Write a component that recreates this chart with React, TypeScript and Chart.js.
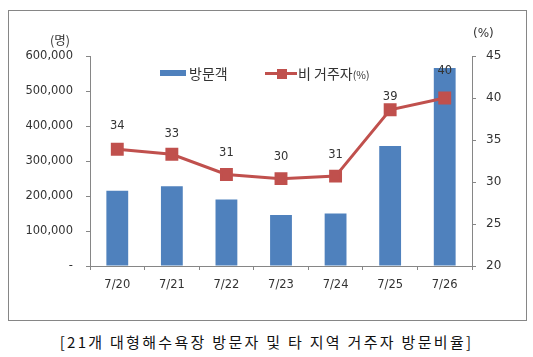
import React, { useEffect, useRef } from "react";
import { Chart, registerables } from "chart.js";

Chart.register(...registerables);

const categories = ["7/20", "7/21", "7/22", "7/23", "7/24", "7/25", "7/26"];
const visitors = [215000, 228000, 190000, 146000, 150000, 343000, 566000];
const nonResidentPct = [33.9, 33.3, 30.9, 30.4, 30.7, 38.6, 40.0];
const leftTicks = [0, 100000, 200000, 300000, 400000, 500000, 600000];
const rightTicks = [20, 25, 30, 35, 40, 45];
const labelOffsets = [23, 20, 21, 22, 21, 13, 27];

const AXIS = "#868686";
const TEXT = "#333333";
const BLUE = "#4F81BD";
const RED = "#C0504D";
const FONT = "'DejaVu Sans', Verdana, sans-serif";
const KFONT = "'Noto Sans CJK KR', sans-serif";

const labelPlugin = {
  id: "lineLabels",
  afterDatasetsDraw(chart: any) {
    const meta = chart.getDatasetMeta(1);
    const ctx = chart.ctx;
    ctx.save();
    ctx.font = `11.5px ${FONT}`;
    ctx.fillStyle = TEXT;
    ctx.textAlign = "center";
    ctx.textBaseline = "middle";
    meta.data.forEach((pt: any, i: number) => {
      const v = nonResidentPct[i];
      ctx.fillText(String(Math.round(v)), pt.x, pt.y - labelOffsets[i]);
    });
    ctx.restore();
  },
};

export default function App() {
  const ref = useRef<HTMLCanvasElement>(null);
  useEffect(() => {
    if (!ref.current) return;
    const chart = new Chart(ref.current, {
      type: "bar",
      data: {
        labels: categories,
        datasets: [
          {
            type: "bar",
            label: "방문객",
            data: visitors,
            backgroundColor: BLUE,
            yAxisID: "y",
            order: 2,
            barPercentage: 0.4,
            categoryPercentage: 1,
          },
          {
            type: "line",
            label: "비 거주자(%)",
            data: nonResidentPct,
            borderColor: RED,
            backgroundColor: RED,
            borderWidth: 3,
            pointStyle: "rect",
            pointRadius: 7,
            pointBackgroundColor: RED,
            pointBorderColor: RED,
            yAxisID: "y1",
            order: 1,
            tension: 0,
          } as any,
        ],
      },
      options: {
        responsive: false,
        animation: false,
        devicePixelRatio: 1,
        layout: { padding: { top: 56, left: 0, right: 0, bottom: 14 } },
        plugins: { legend: { display: false }, tooltip: { enabled: false } },
        scales: {
          x: {
            position: "bottom",
            grid: { display: true, drawOnChartArea: false, tickLength: 4, color: AXIS, offset: true },
            border: { display: true, color: AXIS },
            ticks: { padding: 8, color: TEXT, font: { family: FONT, size: 11.5 } },
            afterFit: (s: any) => { s.height = 40; },
          },
          y: {
            position: "left",
            min: 0,
            max: 600000,
            afterBuildTicks: (s: any) => { s.ticks = leftTicks.map((v) => ({ value: v })); },
            grid: { display: true, drawOnChartArea: false, tickLength: 4, color: AXIS },
            border: { display: true, color: AXIS },
            ticks: {
              padding: 13,
              color: TEXT,
              font: { family: FONT, size: 11.5 },
              callback: (v: any) => (v === 0 ? "-" : Number(v).toLocaleString("en-US")),
            },
            afterFit: (s: any) => { s.width = 90; },
          },
          y1: {
            position: "right",
            min: 20,
            max: 45,
            afterBuildTicks: (s: any) => { s.ticks = rightTicks.map((v) => ({ value: v })); },
            grid: { display: true, drawOnChartArea: false, tickLength: 4, color: AXIS },
            border: { display: true, color: AXIS },
            ticks: { padding: 10, color: TEXT, font: { family: FONT, size: 12 } },
            afterFit: (s: any) => { s.width = 61; },
          },
        },
      },
      plugins: [labelPlugin],
    });
    return () => chart.destroy();
  }, []);

  return (
    <div style={{ position: "absolute", left: 0, top: 0, width: 533, height: 357, background: "#fff" }}>
      <div
        style={{
          position: "absolute",
          left: 8,
          top: 10,
          width: 517,
          height: 309,
          border: `1px solid ${AXIS}`,
        }}
      />
      <canvas ref={ref} width={533} height={320} style={{ position: "absolute", left: 0, top: 0 }} />
      <div style={{ position: "absolute", left: 50, top: 32, font: `12.5px ${KFONT}`, color: TEXT, lineHeight: "16px" }}>(명)</div>
      <div style={{ position: "absolute", left: 473, top: 25, font: `12px ${FONT}`, color: TEXT, lineHeight: "16px" }}>(%)</div>
      {/* legend */}
      <div style={{ position: "absolute", left: 160, top: 70, width: 26, height: 6, background: BLUE }} />
      <div style={{ position: "absolute", left: 189, top: 63, font: `14px ${KFONT}`, color: TEXT, lineHeight: "20px" }}>방문객</div>
      <div style={{ position: "absolute", left: 265, top: 72, width: 32, height: 3, background: RED }} />
      <div style={{ position: "absolute", left: 277, top: 68.5, width: 10, height: 10, background: RED }} />
      <div style={{ position: "absolute", left: 298, top: 63, font: `14px ${KFONT}`, color: TEXT, lineHeight: "20px", whiteSpace: "nowrap" }}>
        비 거주자<span style={{ fontSize: 10.5 }}>(%)</span>
      </div>
      <div
        style={{
          position: "absolute",
          left: 0,
          top: 331,
          width: 533,
          textAlign: "center",
          font: `15px ${KFONT}`,
          letterSpacing: "2.3px",
          color: "#111",
          lineHeight: "22px",
          whiteSpace: "nowrap",
        }}
      >
        [21개 대형해수욕장 방문자 및 타 지역 거주자 방문비율]
      </div>
    </div>
  );
}
